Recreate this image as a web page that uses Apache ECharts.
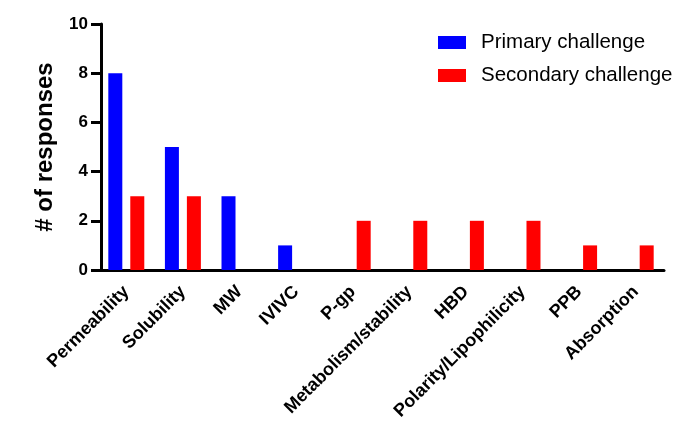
<!DOCTYPE html>
<html><head><meta charset="utf-8">
<script src="https://cdn.jsdelivr.net/npm/echarts@6/dist/echarts.min.js"></script>
<style>html,body{margin:0;padding:0;background:#fff}#c{width:700px;height:442px}</style>
</head><body><div id="c"></div>
<script>
const categories = ['Permeability','Solubility','MW','IVIVC','P-gp','Metabolism/stability','HBD','Polarity/Lipophilicity','PPB','Absorption'];
const primary = [8,5,3,1,0,0,0,0,0,0];
const secondary = [3,3,0,0,2,2,2,2,1,1];
const yTicks = [0,2,4,6,8,10];

const chart = echarts.init(document.getElementById('c'), null, {renderer:'canvas'});
const font = '"Liberation Sans", Arial, sans-serif';
chart.setOption({
  animation:false,
  textStyle:{fontFamily:font},
  grid:{left:98, right:36, top:24, bottom:172},
  legend:{
    orient:'vertical', left:438, top:32, padding:0, itemWidth:28, itemHeight:13, itemGap:12,
    icon:'rect',
    textStyle:{fontSize:20.5, color:'#000', fontFamily:font, padding:[0,0,0,10]},
    data:['Primary challenge','Secondary challenge']
  },
  xAxis:{
    type:'category', data:categories, boundaryGap:true,
    axisLine:{lineStyle:{color:'#000', width:3}},
    axisTick:{alignWithLabel:true, length:11, lineStyle:{color:'#000', width:3}},
    axisLabel:{interval:0, rotate:45, fontSize:18, fontWeight:'bold', color:'#000', margin:19, fontFamily:font}
  },
  yAxis:{
    type:'value', min:yTicks[0], max:yTicks[yTicks.length-1], interval:2, offset:-3,
    name:'# of responses', nameLocation:'middle', nameGap:44,
    nameTextStyle:{fontSize:24, fontWeight:'bold', color:'#000', fontFamily:font},
    axisLine:{show:true, lineStyle:{color:'#000', width:3}},
    axisTick:{show:true, length:10, lineStyle:{color:'#000', width:3}},
    axisLabel:{fontSize:17, fontWeight:'bold', color:'#000', margin:13, fontFamily:font},
    splitLine:{show:false}
  },
  series:[
    {name:'Primary challenge', type:'bar', data:primary, barWidth:14, barGap:'57%', itemStyle:{color:'#0000ff'}},
    {name:'Secondary challenge', type:'bar', data:secondary, barWidth:14, itemStyle:{color:'#ff0000'}}
  ]
});
</script></body></html>
